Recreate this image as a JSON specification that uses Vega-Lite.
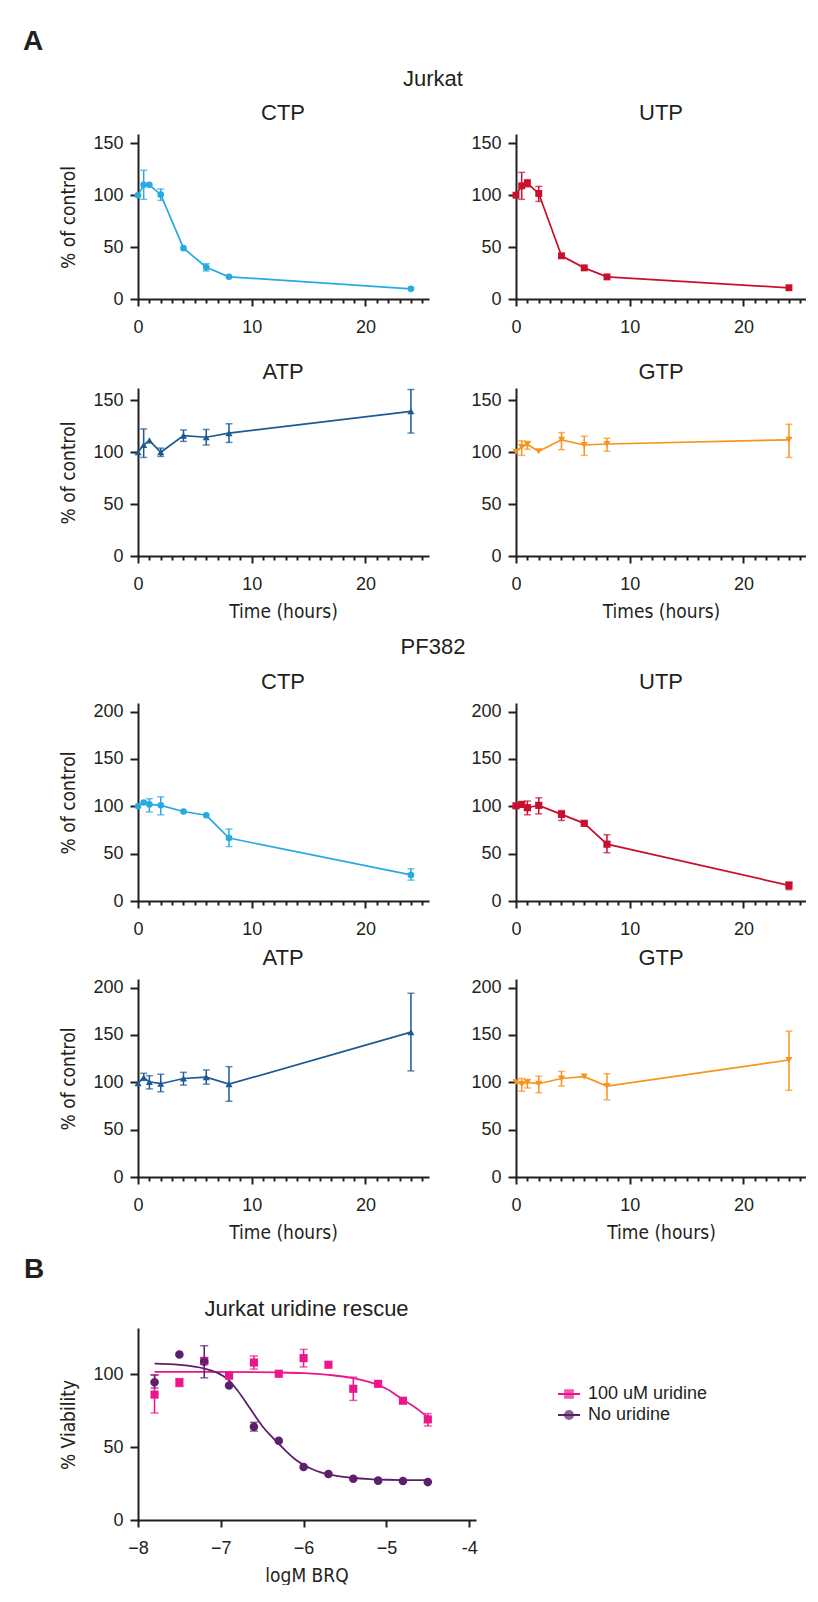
{
  "$schema": "https://vega.github.io/schema/vega-lite/v6.json",
  "padding": {"left": 22, "top": 28, "right": 0, "bottom": 0},
  "background": "white",
  "datasets": {
    "tc": [
      {"c":"J","n":"CTP","t":0,"v":100},{"c":"J","n":"CTP","t":0.5,"v":110,"lo":96,"hi":124},{"c":"J","n":"CTP","t":1,"v":110},{"c":"J","n":"CTP","t":2,"v":100.5,"lo":95,"hi":106},{"c":"J","n":"CTP","t":4,"v":49},{"c":"J","n":"CTP","t":6,"v":30.6,"lo":27,"hi":34},{"c":"J","n":"CTP","t":8,"v":21.4},{"c":"J","n":"CTP","t":24,"v":9.8},
      {"c":"J","n":"UTP","t":0,"v":100},{"c":"J","n":"UTP","t":0.5,"v":109,"lo":96,"hi":122},{"c":"J","n":"UTP","t":1,"v":111.5,"lo":108,"hi":115},{"c":"J","n":"UTP","t":2,"v":101.7,"lo":94,"hi":108.5},{"c":"J","n":"UTP","t":4,"v":41.6},{"c":"J","n":"UTP","t":6,"v":30},{"c":"J","n":"UTP","t":8,"v":21.3},{"c":"J","n":"UTP","t":24,"v":10.8},
      {"c":"J","n":"ATP","t":0,"v":100},{"c":"J","n":"ATP","t":0.5,"v":107,"lo":95,"hi":122.5},{"c":"J","n":"ATP","t":1,"v":111.5},{"c":"J","n":"ATP","t":2,"v":100,"lo":96,"hi":104},{"c":"J","n":"ATP","t":4,"v":116,"lo":110.5,"hi":121.5},{"c":"J","n":"ATP","t":6,"v":114.5,"lo":107,"hi":122},{"c":"J","n":"ATP","t":8,"v":118.5,"lo":109.5,"hi":127.5},{"c":"J","n":"ATP","t":24,"v":139.5,"lo":118.5,"hi":160.5},
      {"c":"J","n":"GTP","t":0,"v":100.5},{"c":"J","n":"GTP","t":0.5,"v":105,"lo":97,"hi":111},{"c":"J","n":"GTP","t":1,"v":107.5,"lo":103,"hi":110.5},{"c":"J","n":"GTP","t":2,"v":101},{"c":"J","n":"GTP","t":4,"v":112,"lo":102.5,"hi":119},{"c":"J","n":"GTP","t":6,"v":107,"lo":97,"hi":115.5},{"c":"J","n":"GTP","t":8,"v":108,"lo":101,"hi":113.5},{"c":"J","n":"GTP","t":24,"v":112,"lo":95,"hi":127},
      {"c":"P","n":"CTP","t":0,"v":100},{"c":"P","n":"CTP","t":0.5,"v":104},{"c":"P","n":"CTP","t":1,"v":102,"lo":94,"hi":108},{"c":"P","n":"CTP","t":2,"v":101,"lo":91,"hi":110},{"c":"P","n":"CTP","t":4,"v":94.5},{"c":"P","n":"CTP","t":6,"v":90.5},{"c":"P","n":"CTP","t":8,"v":66.5,"lo":57.5,"hi":76},{"c":"P","n":"CTP","t":24,"v":27.5,"lo":22,"hi":34},
      {"c":"P","n":"UTP","t":0,"v":100.5},{"c":"P","n":"UTP","t":0.5,"v":102},{"c":"P","n":"UTP","t":1,"v":98.5,"lo":91,"hi":105.5},{"c":"P","n":"UTP","t":2,"v":101,"lo":92,"hi":109},{"c":"P","n":"UTP","t":4,"v":91.5,"lo":85,"hi":95.5},{"c":"P","n":"UTP","t":6,"v":82},{"c":"P","n":"UTP","t":8,"v":60,"lo":51,"hi":70},{"c":"P","n":"UTP","t":24,"v":16.5,"lo":12,"hi":20},
      {"c":"P","n":"ATP","t":0,"v":99},{"c":"P","n":"ATP","t":0.5,"v":105,"lo":102,"hi":109.5},{"c":"P","n":"ATP","t":1,"v":100.5,"lo":93,"hi":107},{"c":"P","n":"ATP","t":2,"v":98.5,"lo":90,"hi":108.5},{"c":"P","n":"ATP","t":4,"v":104,"lo":97,"hi":110.5},{"c":"P","n":"ATP","t":6,"v":105.5,"lo":98,"hi":113},{"c":"P","n":"ATP","t":8,"v":98,"lo":80,"hi":116.5},{"c":"P","n":"ATP","t":24,"v":153,"lo":112,"hi":194},
      {"c":"P","n":"GTP","t":0,"v":100},{"c":"P","n":"GTP","t":0.5,"v":98,"lo":90.5,"hi":104},{"c":"P","n":"GTP","t":1,"v":100,"lo":94,"hi":103},{"c":"P","n":"GTP","t":2,"v":98.5,"lo":89,"hi":106.5},{"c":"P","n":"GTP","t":4,"v":104,"lo":96,"hi":111.5},{"c":"P","n":"GTP","t":6,"v":106},{"c":"P","n":"GTP","t":8,"v":96,"lo":81.5,"hi":109},{"c":"P","n":"GTP","t":24,"v":123.5,"lo":91.5,"hi":154}
    ],
    "rescue": [
      {"g":"100 uM uridine","x":-7.8,"v":86,"lo":73.4,"hi":99.5},{"g":"100 uM uridine","x":-7.5,"v":94.3,"lo":91.5,"hi":97},{"g":"100 uM uridine","x":-7.2,"v":109,"lo":107,"hi":111.5},{"g":"100 uM uridine","x":-6.9,"v":99},{"g":"100 uM uridine","x":-6.6,"v":108,"lo":103.5,"hi":112.5},{"g":"100 uM uridine","x":-6.3,"v":100.3},{"g":"100 uM uridine","x":-6.0,"v":111,"lo":105,"hi":117},{"g":"100 uM uridine","x":-5.7,"v":106.5},{"g":"100 uM uridine","x":-5.4,"v":90,"lo":82,"hi":98},{"g":"100 uM uridine","x":-5.1,"v":93.4},{"g":"100 uM uridine","x":-4.8,"v":81.8},{"g":"100 uM uridine","x":-4.5,"v":69,"lo":64.5,"hi":73},
      {"g":"No uridine","x":-7.8,"v":94.5,"lo":90.5,"hi":99.5},{"g":"No uridine","x":-7.5,"v":113.5},{"g":"No uridine","x":-7.2,"v":108.5,"lo":97.5,"hi":119.5},{"g":"No uridine","x":-6.9,"v":92.3},{"g":"No uridine","x":-6.6,"v":64,"lo":61,"hi":67},{"g":"No uridine","x":-6.3,"v":54.3},{"g":"No uridine","x":-6.0,"v":36.3},{"g":"No uridine","x":-5.7,"v":31.5},{"g":"No uridine","x":-5.4,"v":28.3},{"g":"No uridine","x":-5.1,"v":27},{"g":"No uridine","x":-4.8,"v":26.8},{"g":"No uridine","x":-4.5,"v":26}
    ],
    "fit": [
      {"g":"100 uM uridine","x":-7.8,"v":101.6},{"g":"100 uM uridine","x":-7.2,"v":101.6},{"g":"100 uM uridine","x":-6.6,"v":101.4},{"g":"100 uM uridine","x":-6.3,"v":101.2},{"g":"100 uM uridine","x":-6.0,"v":100.7},{"g":"100 uM uridine","x":-5.8,"v":100},{"g":"100 uM uridine","x":-5.7,"v":99.5},{"g":"100 uM uridine","x":-5.55,"v":98.6},{"g":"100 uM uridine","x":-5.4,"v":97.3},{"g":"100 uM uridine","x":-5.2,"v":94.5},{"g":"100 uM uridine","x":-5.1,"v":92.5},{"g":"100 uM uridine","x":-5.0,"v":90},{"g":"100 uM uridine","x":-4.9,"v":86.5},{"g":"100 uM uridine","x":-4.8,"v":82.5},{"g":"100 uM uridine","x":-4.7,"v":79},{"g":"100 uM uridine","x":-4.6,"v":75},{"g":"100 uM uridine","x":-4.5,"v":70.5},
      {"g":"No uridine","x":-7.8,"v":107.2},{"g":"No uridine","x":-7.5,"v":106.4},{"g":"No uridine","x":-7.2,"v":103.8},{"g":"No uridine","x":-7.0,"v":99.7},{"g":"No uridine","x":-6.9,"v":95.8},{"g":"No uridine","x":-6.8,"v":89},{"g":"No uridine","x":-6.7,"v":81},{"g":"No uridine","x":-6.6,"v":72.5},{"g":"No uridine","x":-6.5,"v":64.5},{"g":"No uridine","x":-6.4,"v":58},{"g":"No uridine","x":-6.3,"v":52.3},{"g":"No uridine","x":-6.2,"v":46.5},{"g":"No uridine","x":-6.1,"v":41.5},{"g":"No uridine","x":-6.0,"v":37.8},{"g":"No uridine","x":-5.9,"v":35},{"g":"No uridine","x":-5.8,"v":32.8},{"g":"No uridine","x":-5.6,"v":30.2},{"g":"No uridine","x":-5.4,"v":28.8},{"g":"No uridine","x":-5.2,"v":28},{"g":"No uridine","x":-5.0,"v":27.6},{"g":"No uridine","x":-4.8,"v":27.4},{"g":"No uridine","x":-4.5,"v":27.3}
    ]
  },
  "data": {"name": "tc"},
  "title": {"text": "A", "anchor": "start", "frame": "bounds", "fontSize": 28, "fontWeight": "bold", "dx": -1, "offset": 12},
  "spacing": 14,
  "vconcat": [
    {
      "title": {"text": "Jurkat", "anchor": "middle", "frame": "bounds", "offset": 11},
      "spacing": 24,
      "vconcat": [
        {"spacing": 42, "hconcat": [
          {"width": 290, "height": 164, "title": {"text": "CTP", "frame": "group", "offset": 9},
           "transform": [{"filter": "datum.c === 'J' && datum.n === 'CTP'"}],
           "encoding": {"x": {"field": "t", "type": "quantitative", "scale": {"domain": [0, 25.5], "nice": false, "zero": false}, "axis": {"values": [0,1,2,3,4,5,6,7,8,9,10,11,12,13,14,15,16,17,18,19,20,21,22,23,24,25], "labelExpr": "datum.value % 10 === 0 ? datum.label : ''", "tickSize": {"condition": {"test": "datum.value % 10 === 0", "value": 7}, "value": 4}, "title": null}}},
           "layer": [
             {"transform": [{"filter": "isValid(datum.lo)"}], "mark": {"type": "errorbar", "ticks": true, "size": 7, "thickness": 1.5, "color": "#27aae1"},
              "encoding": {"y": {"field": "lo", "type": "quantitative", "scale": {"domain": [0, 158], "nice": false}, "axis": {"values": [0,50,100,150], "title": "% of control", "format": "d"}}, "y2": {"field": "hi"}}},
             {"mark": {"type": "line", "color": "#27aae1", "strokeWidth": 1.7, "point": {"filled": true, "shape": "circle", "size": 44, "color": "#27aae1", "opacity": 1}},
              "encoding": {"y": {"field": "v", "type": "quantitative", "scale": {"domain": [0, 158], "nice": false}, "axis": {"values": [0,50,100,150], "title": "% of control", "format": "d"}}}}
           ]},
          {"width": 290, "height": 164, "title": {"text": "UTP", "frame": "group", "offset": 9},
           "transform": [{"filter": "datum.c === 'J' && datum.n === 'UTP'"}],
           "encoding": {"x": {"field": "t", "type": "quantitative", "scale": {"domain": [0, 25.5], "nice": false, "zero": false}, "axis": {"values": [0,1,2,3,4,5,6,7,8,9,10,11,12,13,14,15,16,17,18,19,20,21,22,23,24,25], "labelExpr": "datum.value % 10 === 0 ? datum.label : ''", "tickSize": {"condition": {"test": "datum.value % 10 === 0", "value": 7}, "value": 4}, "title": null}}},
           "layer": [
             {"transform": [{"filter": "isValid(datum.lo)"}], "mark": {"type": "errorbar", "ticks": true, "size": 7, "thickness": 1.5, "color": "#c8102e"},
              "encoding": {"y": {"field": "lo", "type": "quantitative", "scale": {"domain": [0, 158], "nice": false}, "axis": {"values": [0,50,100,150], "title": null, "format": "d"}}, "y2": {"field": "hi"}}},
             {"mark": {"type": "line", "color": "#c8102e", "strokeWidth": 1.7, "point": {"filled": true, "shape": "square", "size": 48, "color": "#c8102e", "opacity": 1}},
              "encoding": {"y": {"field": "v", "type": "quantitative", "scale": {"domain": [0, 158], "nice": false}, "axis": {"values": [0,50,100,150], "title": null, "format": "d"}}}}
           ]}
        ]},
        {"spacing": 42, "hconcat": [
          {"width": 290, "height": 167, "title": {"text": "ATP", "frame": "group", "offset": 5},
           "transform": [{"filter": "datum.c === 'J' && datum.n === 'ATP'"}],
           "encoding": {"x": {"field": "t", "type": "quantitative", "scale": {"domain": [0, 25.5], "nice": false, "zero": false}, "axis": {"values": [0,1,2,3,4,5,6,7,8,9,10,11,12,13,14,15,16,17,18,19,20,21,22,23,24,25], "labelExpr": "datum.value % 10 === 0 ? datum.label : ''", "tickSize": {"condition": {"test": "datum.value % 10 === 0", "value": 7}, "value": 4}, "title": "Time (hours)"}}},
           "layer": [
             {"transform": [{"filter": "isValid(datum.lo)"}], "mark": {"type": "errorbar", "ticks": true, "size": 7, "thickness": 1.5, "color": "#1d5a92"},
              "encoding": {"y": {"field": "lo", "type": "quantitative", "scale": {"domain": [0, 161], "nice": false}, "axis": {"values": [0,50,100,150], "title": "% of control", "format": "d"}}, "y2": {"field": "hi"}}},
             {"mark": {"type": "line", "color": "#1d5a92", "strokeWidth": 1.7, "point": {"filled": true, "shape": "triangle-up", "size": 50, "color": "#1d5a92", "opacity": 1}},
              "encoding": {"y": {"field": "v", "type": "quantitative", "scale": {"domain": [0, 161], "nice": false}, "axis": {"values": [0,50,100,150], "title": "% of control", "format": "d"}}}}
           ]},
          {"width": 290, "height": 167, "title": {"text": "GTP", "frame": "group", "offset": 5},
           "transform": [{"filter": "datum.c === 'J' && datum.n === 'GTP'"}],
           "encoding": {"x": {"field": "t", "type": "quantitative", "scale": {"domain": [0, 25.5], "nice": false, "zero": false}, "axis": {"values": [0,1,2,3,4,5,6,7,8,9,10,11,12,13,14,15,16,17,18,19,20,21,22,23,24,25], "labelExpr": "datum.value % 10 === 0 ? datum.label : ''", "tickSize": {"condition": {"test": "datum.value % 10 === 0", "value": 7}, "value": 4}, "title": "Times (hours)"}}},
           "layer": [
             {"transform": [{"filter": "isValid(datum.lo)"}], "mark": {"type": "errorbar", "ticks": true, "size": 7, "thickness": 1.5, "color": "#f7941d"},
              "encoding": {"y": {"field": "lo", "type": "quantitative", "scale": {"domain": [0, 161], "nice": false}, "axis": {"values": [0,50,100,150], "title": null, "format": "d"}}, "y2": {"field": "hi"}}},
             {"mark": {"type": "line", "color": "#f7941d", "strokeWidth": 1.7, "point": {"filled": true, "shape": "triangle-down", "size": 50, "color": "#f7941d", "opacity": 1}},
              "encoding": {"y": {"field": "v", "type": "quantitative", "scale": {"domain": [0, 161], "nice": false}, "axis": {"values": [0,50,100,150], "title": null, "format": "d"}}}}
           ]}
        ]}
      ]
    },
    {
      "title": {"text": "PF382", "anchor": "middle", "frame": "bounds", "offset": 12},
      "spacing": 8,
      "vconcat": [
        {"spacing": 42, "hconcat": [
          {"width": 290, "height": 197, "title": {"text": "CTP", "frame": "group", "offset": 9},
           "transform": [{"filter": "datum.c === 'P' && datum.n === 'CTP'"}],
           "encoding": {"x": {"field": "t", "type": "quantitative", "scale": {"domain": [0, 25.5], "nice": false, "zero": false}, "axis": {"values": [0,1,2,3,4,5,6,7,8,9,10,11,12,13,14,15,16,17,18,19,20,21,22,23,24,25], "labelExpr": "datum.value % 10 === 0 ? datum.label : ''", "tickSize": {"condition": {"test": "datum.value % 10 === 0", "value": 7}, "value": 4}, "title": null}}},
           "layer": [
             {"transform": [{"filter": "isValid(datum.lo)"}], "mark": {"type": "errorbar", "ticks": true, "size": 7, "thickness": 1.5, "color": "#27aae1"},
              "encoding": {"y": {"field": "lo", "type": "quantitative", "scale": {"domain": [0, 208], "nice": false}, "axis": {"values": [0,50,100,150,200], "title": "% of control", "format": "d"}}, "y2": {"field": "hi"}}},
             {"mark": {"type": "line", "color": "#27aae1", "strokeWidth": 1.7, "point": {"filled": true, "shape": "circle", "size": 44, "color": "#27aae1", "opacity": 1}},
              "encoding": {"y": {"field": "v", "type": "quantitative", "scale": {"domain": [0, 208], "nice": false}, "axis": {"values": [0,50,100,150,200], "title": "% of control", "format": "d"}}}}
           ]},
          {"width": 290, "height": 197, "title": {"text": "UTP", "frame": "group", "offset": 9},
           "transform": [{"filter": "datum.c === 'P' && datum.n === 'UTP'"}],
           "encoding": {"x": {"field": "t", "type": "quantitative", "scale": {"domain": [0, 25.5], "nice": false, "zero": false}, "axis": {"values": [0,1,2,3,4,5,6,7,8,9,10,11,12,13,14,15,16,17,18,19,20,21,22,23,24,25], "labelExpr": "datum.value % 10 === 0 ? datum.label : ''", "tickSize": {"condition": {"test": "datum.value % 10 === 0", "value": 7}, "value": 4}, "title": null}}},
           "layer": [
             {"transform": [{"filter": "isValid(datum.lo)"}], "mark": {"type": "errorbar", "ticks": true, "size": 7, "thickness": 1.5, "color": "#c8102e"},
              "encoding": {"y": {"field": "lo", "type": "quantitative", "scale": {"domain": [0, 208], "nice": false}, "axis": {"values": [0,50,100,150,200], "title": null, "format": "d"}}, "y2": {"field": "hi"}}},
             {"mark": {"type": "line", "color": "#c8102e", "strokeWidth": 1.7, "point": {"filled": true, "shape": "square", "size": 52, "color": "#c8102e", "opacity": 1}},
              "encoding": {"y": {"field": "v", "type": "quantitative", "scale": {"domain": [0, 208], "nice": false}, "axis": {"values": [0,50,100,150,200], "title": null, "format": "d"}}}}
           ]}
        ]},
        {"spacing": 42, "hconcat": [
          {"width": 290, "height": 197, "title": {"text": "ATP", "frame": "group", "offset": 9},
           "transform": [{"filter": "datum.c === 'P' && datum.n === 'ATP'"}],
           "encoding": {"x": {"field": "t", "type": "quantitative", "scale": {"domain": [0, 25.5], "nice": false, "zero": false}, "axis": {"values": [0,1,2,3,4,5,6,7,8,9,10,11,12,13,14,15,16,17,18,19,20,21,22,23,24,25], "labelExpr": "datum.value % 10 === 0 ? datum.label : ''", "tickSize": {"condition": {"test": "datum.value % 10 === 0", "value": 7}, "value": 4}, "title": "Time (hours)"}}},
           "layer": [
             {"transform": [{"filter": "isValid(datum.lo)"}], "mark": {"type": "errorbar", "ticks": true, "size": 7, "thickness": 1.5, "color": "#1d5a92"},
              "encoding": {"y": {"field": "lo", "type": "quantitative", "scale": {"domain": [0, 208], "nice": false}, "axis": {"values": [0,50,100,150,200], "title": "% of control", "format": "d"}}, "y2": {"field": "hi"}}},
             {"mark": {"type": "line", "color": "#1d5a92", "strokeWidth": 1.7, "point": {"filled": true, "shape": "triangle-up", "size": 50, "color": "#1d5a92", "opacity": 1}},
              "encoding": {"y": {"field": "v", "type": "quantitative", "scale": {"domain": [0, 208], "nice": false}, "axis": {"values": [0,50,100,150,200], "title": "% of control", "format": "d"}}}}
           ]},
          {"width": 290, "height": 197, "title": {"text": "GTP", "frame": "group", "offset": 9},
           "transform": [{"filter": "datum.c === 'P' && datum.n === 'GTP'"}],
           "encoding": {"x": {"field": "t", "type": "quantitative", "scale": {"domain": [0, 25.5], "nice": false, "zero": false}, "axis": {"values": [0,1,2,3,4,5,6,7,8,9,10,11,12,13,14,15,16,17,18,19,20,21,22,23,24,25], "labelExpr": "datum.value % 10 === 0 ? datum.label : ''", "tickSize": {"condition": {"test": "datum.value % 10 === 0", "value": 7}, "value": 4}, "title": "Time (hours)"}}},
           "layer": [
             {"transform": [{"filter": "isValid(datum.lo)"}], "mark": {"type": "errorbar", "ticks": true, "size": 7, "thickness": 1.5, "color": "#f7941d"},
              "encoding": {"y": {"field": "lo", "type": "quantitative", "scale": {"domain": [0, 208], "nice": false}, "axis": {"values": [0,50,100,150,200], "title": null, "format": "d"}}, "y2": {"field": "hi"}}},
             {"mark": {"type": "line", "color": "#f7941d", "strokeWidth": 1.7, "point": {"filled": true, "shape": "triangle-down", "size": 50, "color": "#f7941d", "opacity": 1}},
              "encoding": {"y": {"field": "v", "type": "quantitative", "scale": {"domain": [0, 208], "nice": false}, "axis": {"values": [0,50,100,150,200], "title": null, "format": "d"}}}}
           ]}
        ]}
      ]
    },
    {
      "title": {"text": "B", "anchor": "start", "frame": "bounds", "fontSize": 28, "fontWeight": "bold", "dx": -36, "offset": 14},
      "resolve": {"scale": {"color": "independent", "stroke": "independent", "shape": "independent"}, "legend": {"color": "independent", "stroke": "independent", "shape": "independent"}},
      "hconcat": [
        {"width": 337, "height": 191, "title": {"text": "Jurkat uridine rescue", "frame": "group", "offset": 8},
         "encoding": {"x": {"field": "x", "type": "quantitative", "scale": {"domain": [-8, -3.93], "nice": false, "zero": false}, "axis": {"values": [-8,-7,-6,-5,-4], "labelExpr": "datum.value === -4 ? '-4' : datum.label", "title": "logM BRQ"}}},
         "layer": [
           {"data": {"name": "fit"}, "mark": {"type": "line", "strokeWidth": 1.8, "interpolate": "monotone"},
            "encoding": {
              "y": {"field": "v", "type": "quantitative", "scale": {"domain": [0, 131], "nice": false}, "axis": {"values": [0,50,100], "title": "% Viability", "format": "d"}},
              "stroke": {"field": "g", "type": "nominal", "scale": {"range": ["#ec168c", "#5c1f6b"]},
                "legend": {"title": null, "orient": "none", "legendX": 419, "legendY": 53, "padding": 0, "rowPadding": 0, "symbolType": "stroke", "symbolSize": 484, "symbolStrokeWidth": 2, "labelOffset": 7, "labelOpacity": 0, "labelFont": "Liberation Sans", "labelFontSize": 18, "labelColor": "#231f20"}}}},
           {"data": {"name": "rescue"}, "mark": {"type": "point", "filled": true, "size": 484, "opacity": 1},
            "encoding": {
              "y": {"field": "v", "type": "quantitative", "scale": {"domain": [0, 131], "nice": false}, "axis": {"values": [0,50,100], "title": "% Viability", "format": "d"}},
              "color": {"field": "g", "type": "nominal", "scale": {"domain": ["100 uM uridine", "No uridine"], "range": ["#ec168c", "#5c1f6b"]},
                "legend": {"title": null, "orient": "none", "legendX": 419, "legendY": 53, "padding": 0, "rowPadding": 0, "symbolSize": 484, "symbolOpacity": 1, "labelOffset": 7, "labelFont": "Liberation Sans", "labelFontSize": 18, "labelColor": "#231f20"}},
              "shape": {"field": "g", "type": "nominal", "scale": {"domain": ["100 uM uridine", "No uridine"], "range": ["M-0.37,-0.37L0.37,-0.37L0.37,0.37L-0.37,0.37Z", "M0.39,0A0.39,0.39,0,1,1,-0.39,0A0.39,0.39,0,1,1,0.39,0Z"]},
                "legend": {"title": null, "orient": "none", "legendX": 419, "legendY": 53, "padding": 0, "rowPadding": 0, "symbolSize": 484, "symbolOpacity": 1, "labelOffset": 7, "labelFont": "Liberation Sans", "labelFontSize": 18, "labelColor": "#231f20"}}}},
           {"data": {"name": "rescue"}, "transform": [{"filter": "isValid(datum.lo)"}], "mark": {"type": "errorbar", "ticks": true, "size": 8, "thickness": 1.5},
            "encoding": {
              "y": {"field": "lo", "type": "quantitative", "scale": {"domain": [0, 131], "nice": false}, "axis": {"values": [0,50,100], "title": "% Viability", "format": "d"}},
              "y2": {"field": "hi"},
              "color": {"field": "g", "type": "nominal", "scale": {"domain": ["100 uM uridine", "No uridine"], "range": ["#ec168c", "#5c1f6b"]}}}}
         ]}
      ]
    }
  ],
  "config": {
    "font": "Liberation Sans",
    "view": {"stroke": null},
    "axis": {"grid": false, "domainColor": "#231f20", "domainWidth": 2, "domainCap": "square", "tickColor": "#231f20", "tickWidth": 2, "labelFont": "Liberation Sans", "labelFontSize": 18, "labelColor": "#231f20", "titleFont": "Liberation Sans Narrow, Arial Narrow, DejaVu Sans Condensed, sans-serif", "titleFontSize": 19, "titleFontWeight": "normal", "titleColor": "#231f20", "labelOverlap": false, "labelFlush": false},
    "axisX": {"tickSize": 7, "labelPadding": 12, "titlePadding": 9},
    "axisY": {"tickSize": 8, "labelPadding": 7, "titlePadding": 14},
    "title": {"font": "Liberation Sans", "fontSize": 22, "fontWeight": "normal", "color": "#231f20"}
  }
}
